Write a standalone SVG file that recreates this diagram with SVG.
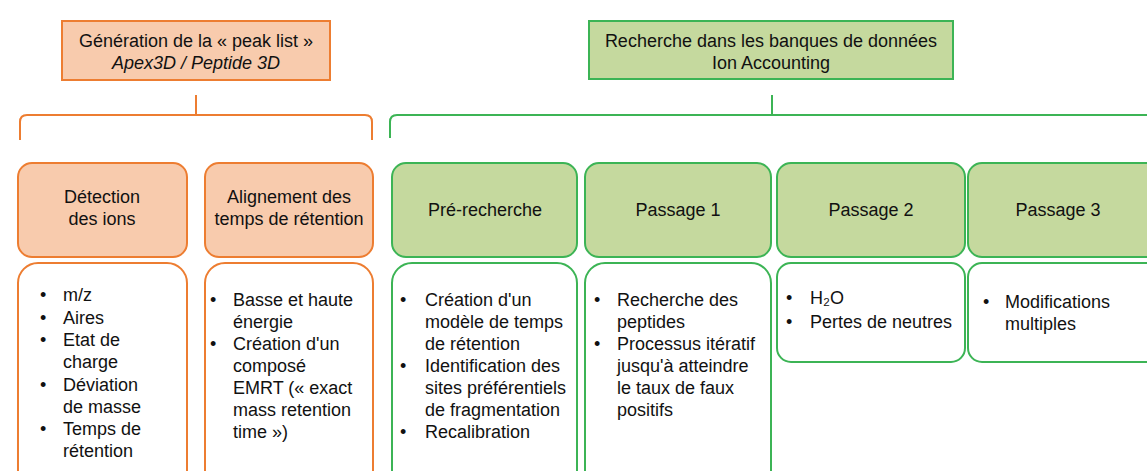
<svg xmlns="http://www.w3.org/2000/svg" width="1147" height="471" viewBox="0 0 1147 471">
<style>
text{font-family:"Liberation Sans",Arial,sans-serif;font-size:18px;fill:#111}
.c{text-anchor:middle}
.i{font-style:italic}
.oh{fill:#f8cbad;stroke:#ed7d31;stroke-width:2}
.gh{fill:#c5d99e;stroke:#3cb455;stroke-width:2}
.ob{fill:#fff;stroke:#ed7d31;stroke-width:2}
.gb{fill:#fff;stroke:#3cb455;stroke-width:2}
.ol{fill:none;stroke:#ed7d31;stroke-width:2}
.gl{fill:none;stroke:#3cb455;stroke-width:2}
</style>
<g id="connectors">
<path class="ol" d="M196,95 V115"/>
<path class="ol" d="M20,140 V122 Q20,115 27,115 H365 Q372,115 372,122 V140"/>
<path class="gl" d="M772,95 V115"/>
<path class="gl" d="M390,138 V122 Q390,115 397,115 H1147"/>
</g>
<g id="h1">
<rect class="oh" x="62" y="21" width="268" height="59"/>
<text class="c" x="196" y="47">Génération de la « peak list »</text>
<text class="c i" x="196" y="69">Apex3D / Peptide 3D</text>
</g>
<g id="h2">
<rect class="gh" x="589" y="21" width="364" height="58"/>
<text class="c" x="771" y="47">Recherche dans les banques de données</text>
<text class="c" x="771" y="69">Ion Accounting</text>
</g>
<g id="n-detection">
<rect class="oh" x="18" y="163" width="169" height="94" rx="14"/>
<text class="c" x="102" y="203">Détection</text>
<text class="c" x="102" y="225">des ions</text>
</g>
<g id="n-alignement">
<rect class="oh" x="205" y="163" width="168" height="94" rx="14"/>
<text class="c" x="289" y="203">Alignement des</text>
<text class="c" x="289" y="225">temps de rétention</text>
</g>
<g id="n-prerecherche">
<rect class="gh" x="392" y="163" width="185" height="94" rx="14"/>
<text class="c" x="485" y="216">Pré-recherche</text>
</g>
<g id="n-passage1">
<rect class="gh" x="585" y="163" width="186" height="94" rx="14"/>
<text class="c" x="678" y="216">Passage 1</text>
</g>
<g id="n-passage2">
<rect class="gh" x="777" y="163" width="188" height="94" rx="14"/>
<text class="c" x="871" y="216">Passage 2</text>
</g>
<g id="n-passage3">
<rect class="gh" x="968" y="163" width="195" height="94" rx="14"/>
<text class="c" x="1058" y="216">Passage 3</text>
</g>
<g id="d-detection">
<rect class="ob" x="18" y="263" width="169" height="230" rx="20"/>
<text x="40" y="301">•</text><text x="63" y="301">m/z</text>
<text x="40" y="324">•</text><text x="63" y="324">Aires</text>
<text x="40" y="346">•</text><text x="63" y="346">Etat de</text>
<text x="63" y="368">charge</text>
<text x="40" y="391">•</text><text x="63" y="391">Déviation</text>
<text x="63" y="413">de masse</text>
<text x="40" y="435">•</text><text x="63" y="435">Temps de</text>
<text x="63" y="457">rétention</text>
</g>
<g id="d-alignement">
<rect class="ob" x="205" y="263" width="168" height="230" rx="20"/>
<text x="210" y="306">•</text><text x="233" y="306">Basse et haute</text>
<text x="233" y="328">énergie</text>
<text x="210" y="350">•</text><text x="233" y="350">Création d'un</text>
<text x="233" y="372">composé</text>
<text x="233" y="394">EMRT (« exact</text>
<text x="233" y="416">mass retention</text>
<text x="233" y="438">time »)</text>
</g>
<g id="d-prerecherche">
<rect class="gb" x="392" y="263" width="185" height="230" rx="20"/>
<text x="400" y="306">•</text><text x="425" y="306">Création d'un</text>
<text x="425" y="328">modèle de temps</text>
<text x="425" y="350">de rétention</text>
<text x="400" y="372">•</text><text x="425" y="372">Identification des</text>
<text x="425" y="394">sites préférentiels</text>
<text x="425" y="416">de fragmentation</text>
<text x="400" y="438">•</text><text x="425" y="438">Recalibration</text>
</g>
<g id="d-passage1">
<rect class="gb" x="585" y="263" width="186" height="230" rx="20"/>
<text x="594" y="306">•</text><text x="617" y="306">Recherche des</text>
<text x="617" y="328">peptides</text>
<text x="594" y="350">•</text><text x="617" y="350">Processus itératif</text>
<text x="617" y="372">jusqu'à atteindre</text>
<text x="617" y="394">le taux de faux</text>
<text x="617" y="416">positifs</text>
</g>
<g id="d-passage2">
<rect class="gb" x="777" y="263" width="188" height="99" rx="14"/>
<text x="786" y="304">•</text><text x="810" y="304">H₂O</text>
<text x="786" y="328">•</text><text x="810" y="328">Pertes de neutres</text>
</g>
<g id="d-passage3">
<rect class="gb" x="968" y="263" width="195" height="99" rx="14"/>
<text x="983" y="308">•</text><text x="1005" y="308">Modifications</text>
<text x="1005" y="330">multiples</text>
</g>
</svg>
